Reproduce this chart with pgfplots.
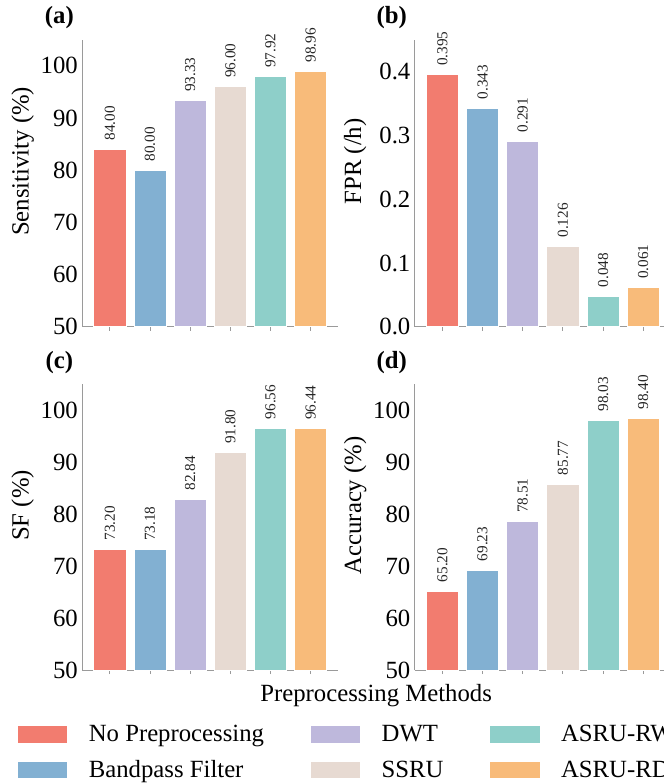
\documentclass[border=0pt]{standalone}
\usepackage{pgfplots}
\pgfplotsset{compat=1.18}
\usepackage{fontspec}
\setmainfont{Liberation Serif}
\definecolor{cA}{HTML}{F27C6F}
\definecolor{cB}{HTML}{82B0D2}
\definecolor{cC}{HTML}{BEB8DC}
\definecolor{cD}{HTML}{E7DAD2}
\definecolor{cE}{HTML}{8ECFC9}
\definecolor{cF}{HTML}{F8BB7A}
\definecolor{spine}{HTML}{9A9A9A}
\newcommand{\fs}{\fontsize{12.5}{15}\selectfont}
\pgfplotsset{
  panel/.style={
    scale only axis, width=129.5pt, height=145pt,
    xmin=-0.69, xmax=5.69,
    axis x line*=bottom, axis y line*=left,
    axis line style={draw=spine, line width=0.5pt, -},
    xtick={0,1,2,3,4,5}, xticklabels={}, xtick align=outside,
    major tick length=2pt,
    x tick style={draw=spine, line width=0.5pt},
    y tick style={draw=none},
    yticklabel style={font=\fs, anchor=east, inner sep=0pt, xshift=-2pt},
    ylabel style={at={(axis description cs:-0.232,0.576)}, anchor=center, font=\fs},
    title style={at={(axis description cs:-0.089,1.035)}, anchor=center, font=\fs\bfseries},
    clip=false,
  },
  pct/.style={ymin=50, ymax=105, ytick={50,60,70,80,90,100}, yticklabels={50,60,70,80,90,100}},
  mybar/.style={ybar, bar width=0.8, bar shift=0pt, fill=#1, draw=white, line width=0.4pt,
    nodes near coords, point meta=explicit symbolic, forget plot,
    every node near coord/.style={rotate=90, anchor=west, inner xsep=4.5pt, inner ysep=0pt, outer sep=0pt,
      font=\fontsize{7.7}{9}\selectfont, text=black!85}},
}
\begin{document}
\begin{tikzpicture}[trim left=0pt, trim right=335pt]
\path (0,0) rectangle (335pt,391.5pt);
% (a)
\begin{axis}[panel, pct, at={(41.5pt,230.5pt)}, anchor=south west,
  ylabel={Sensitivity (\%)}, title={(a)}]
\addplot[mybar=cA] coordinates {(0,84.00) [84.00]};
\addplot[mybar=cB] coordinates {(1,80.00) [80.00]};
\addplot[mybar=cC] coordinates {(2,93.33) [93.33]};
\addplot[mybar=cD] coordinates {(3,96.00) [96.00]};
\addplot[mybar=cE] coordinates {(4,97.92) [97.92]};
\addplot[mybar=cF] coordinates {(5,98.96) [98.96]};
\end{axis}
% (b)
\begin{axis}[panel, at={(209.5pt,230.5pt)}, anchor=south west,
  ymin=0, ymax=0.45, ytick={0,0.1,0.2,0.3,0.4}, yticklabels={0.0,0.1,0.2,0.3,0.4},
  ylabel={FPR (/h)}, title={(b)}]
\addplot[mybar=cA] coordinates {(0,0.395) [0.395]};
\addplot[mybar=cB] coordinates {(1,0.343) [0.343]};
\addplot[mybar=cC] coordinates {(2,0.291) [0.291]};
\addplot[mybar=cD] coordinates {(3,0.126) [0.126]};
\addplot[mybar=cE] coordinates {(4,0.048) [0.048]};
\addplot[mybar=cF] coordinates {(5,0.061) [0.061]};
\end{axis}
% (c)
\begin{axis}[panel, pct, height=144.5pt, at={(41.5pt,57pt)}, anchor=south west,
  ylabel={SF (\%)}, title={(c)},
  xlabel={Preprocessing Methods},
  xlabel style={at={(axis description cs:1.147,-0.088)}, anchor=center, font=\fs},
  legend columns=3,
  legend cell align=left,
  legend style={draw=none, fill=none, inner sep=0pt, outer sep=0pt,
    at={(axis description cs:-0.2548,-0.187)}, anchor=north west,
    font=\fs, row sep=6pt,
    nodes={inner sep=0pt, text height=9pt, text depth=3pt},
    /tikz/every odd column/.append style={column sep=10.5pt},
    /tikz/every even column/.append style={column sep=23pt}},
  legend image code/.code={\draw[#1] (0pt,-3.9pt) rectangle (25.5pt,5.1pt);}]
\addplot[mybar=cA] coordinates {(0,73.20) [73.20]};
\addplot[mybar=cB] coordinates {(1,73.18) [73.18]};
\addplot[mybar=cC] coordinates {(2,82.84) [82.84]};
\addplot[mybar=cD] coordinates {(3,91.80) [91.80]};
\addplot[mybar=cE] coordinates {(4,96.56) [96.56]};
\addplot[mybar=cF] coordinates {(5,96.44) [96.44]};
\addlegendimage{fill=cA, draw=white}\addlegendentry{No Preprocessing}
\addlegendimage{fill=cC, draw=white}\addlegendentry{DWT}
\addlegendimage{fill=cE, draw=white}\addlegendentry{ASRU-RW}
\addlegendimage{fill=cB, draw=white}\addlegendentry{Bandpass Filter}
\addlegendimage{fill=cD, draw=white}\addlegendentry{SSRU}
\addlegendimage{fill=cF, draw=white}\addlegendentry{ASRU-RD}
\end{axis}
% (d)
\begin{axis}[panel, pct, height=144.5pt, at={(209.5pt,57pt)}, anchor=south west,
  ylabel={Accuracy (\%)}, title={(d)}]
\addplot[mybar=cA] coordinates {(0,65.20) [65.20]};
\addplot[mybar=cB] coordinates {(1,69.23) [69.23]};
\addplot[mybar=cC] coordinates {(2,78.51) [78.51]};
\addplot[mybar=cD] coordinates {(3,85.77) [85.77]};
\addplot[mybar=cE] coordinates {(4,98.03) [98.03]};
\addplot[mybar=cF] coordinates {(5,98.40) [98.40]};
\end{axis}
\end{tikzpicture}
\end{document}
